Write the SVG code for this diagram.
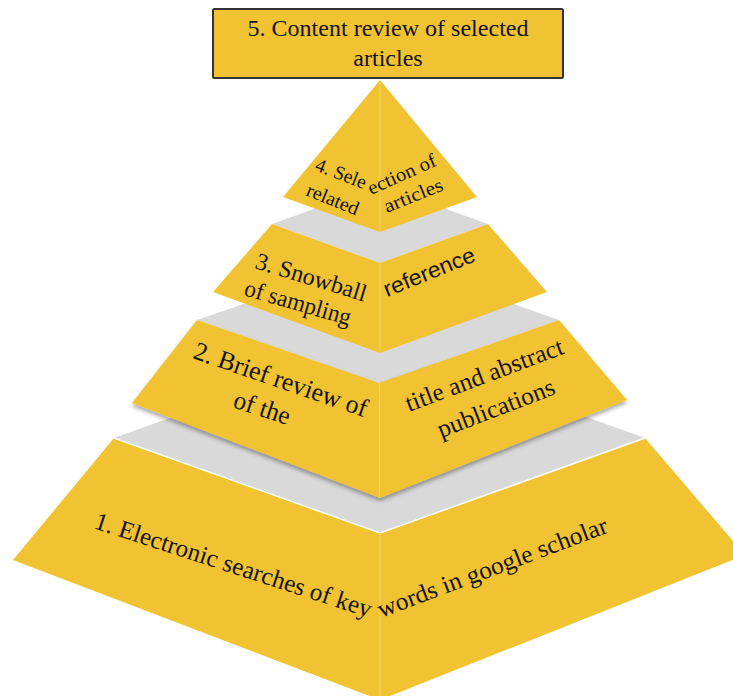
<svg xmlns="http://www.w3.org/2000/svg" width="733" height="696" viewBox="0 0 733 696">
  <style>
    .face { fill: #F1C232; }
    .top { fill: #D9D9D9; }
    .mid { stroke: #F6D36A; stroke-width: 1; }
    .t { font-family: "Liberation Serif", "Times New Roman", serif; fill: #141414; }
    .s { font-family: "Liberation Sans", Arial, sans-serif; fill: #141414; }
  </style>
  <defs>
    <filter id="sh" x="-10%" y="-10%" width="120%" height="130%">
      <feDropShadow dx="0" dy="3" stdDeviation="2" flood-color="#000" flood-opacity="0.35"/>
    </filter>
  </defs>
  <rect width="733" height="696" fill="#FFFFFF"/>

  <g id="level1">
    <polygon class="top" points="114,438 380,343 645,438 380,533"/>
    <polygon class="face" points="114,438 380,533 380,700 13,560"/>
    <polygon class="face" points="380,533 645,438 745,555 380,700"/>
    <polyline points="114,438 380,533 645,438" fill="none" stroke="#FFFFFF" stroke-width="1.5"/>
    <line class="mid" x1="380" y1="533" x2="380" y2="696"/>
    <text class="t" font-size="25" transform="translate(93,528) rotate(18)" textLength="290" lengthAdjust="spacingAndGlyphs">1. Electronic searches of key</text>
    <text class="t" font-size="25" transform="translate(381,618) rotate(-20.6)" textLength="244" lengthAdjust="spacingAndGlyphs">words in google scholar</text>
  </g>

  <g id="level2">
    <polygon class="top" points="197,320 380,257 559,320 379,383"/>
    <g filter="url(#sh)">
      <polygon class="face" points="197,320 379,383 380,498 132,403"/>
      <polygon class="face" points="379,383 559,320 627,400 380,498"/>
    </g>
    <line class="mid" x1="379.5" y1="383" x2="379.5" y2="498"/>
    <text class="t" font-size="26" transform="translate(192,358) rotate(19)" textLength="182" lengthAdjust="spacingAndGlyphs">2. Brief review of</text>
    <text class="t" font-size="26" transform="translate(232,407) rotate(18)" textLength="58" lengthAdjust="spacingAndGlyphs">of the</text>
    <text class="t" font-size="25" transform="translate(409,412) rotate(-20.6)" textLength="167" lengthAdjust="spacingAndGlyphs">title and abstract</text>
    <text class="t" font-size="25" transform="translate(441,438) rotate(-21)" textLength="124" lengthAdjust="spacingAndGlyphs">publications</text>
  </g>

  <g id="level3">
    <polygon class="top" points="272,224 380,185 488,224 380,263"/>
    <polygon class="face" points="272,224 380,263 380,353 213,292"/>
    <polygon class="face" points="380,263 488,224 547,292 380,353"/>
    <line class="mid" x1="380" y1="263" x2="380" y2="353"/>
    <text class="t" font-size="24" transform="translate(254,268) rotate(17)" textLength="115" lengthAdjust="spacingAndGlyphs">3. Snowball</text>
    <text class="t" font-size="24" transform="translate(243,295) rotate(16)" textLength="110" lengthAdjust="spacingAndGlyphs">of sampling</text>
    <text class="s" font-size="22" transform="translate(387,297) rotate(-22)" textLength="97" lengthAdjust="spacingAndGlyphs">reference</text>
  </g>

  <g id="level4">
    <polygon class="face" points="380,80 380,232 283,197"/>
    <polygon class="face" points="380,80 477,197 380,232"/>
    <line class="mid" x1="380" y1="82" x2="380" y2="232"/>
    <text class="t" font-size="19.5" transform="translate(314,170) rotate(21)" textLength="53" lengthAdjust="spacingAndGlyphs">4. Sele</text>
    <text class="t" font-size="19.5" transform="translate(305,195) rotate(22)" textLength="55" lengthAdjust="spacingAndGlyphs">related</text>
    <text class="t" font-size="19.5" transform="translate(371,195) rotate(-24)" textLength="73" lengthAdjust="spacingAndGlyphs">ection of</text>
    <text class="t" font-size="19.5" transform="translate(387,213) rotate(-22)" textLength="62" lengthAdjust="spacingAndGlyphs">articles</text>
  </g>

  <g id="level5">
    <rect x="213" y="9" width="350" height="69" rx="1.5" fill="#F1C232" stroke="#333333" stroke-width="2"/>
    <text class="t" font-size="24" x="388" y="36" text-anchor="middle" textLength="281" lengthAdjust="spacingAndGlyphs">5. Content review of selected</text>
    <text class="t" font-size="24" x="388" y="66" text-anchor="middle">articles</text>
  </g>

  <g id="connectors"></g>
</svg>
